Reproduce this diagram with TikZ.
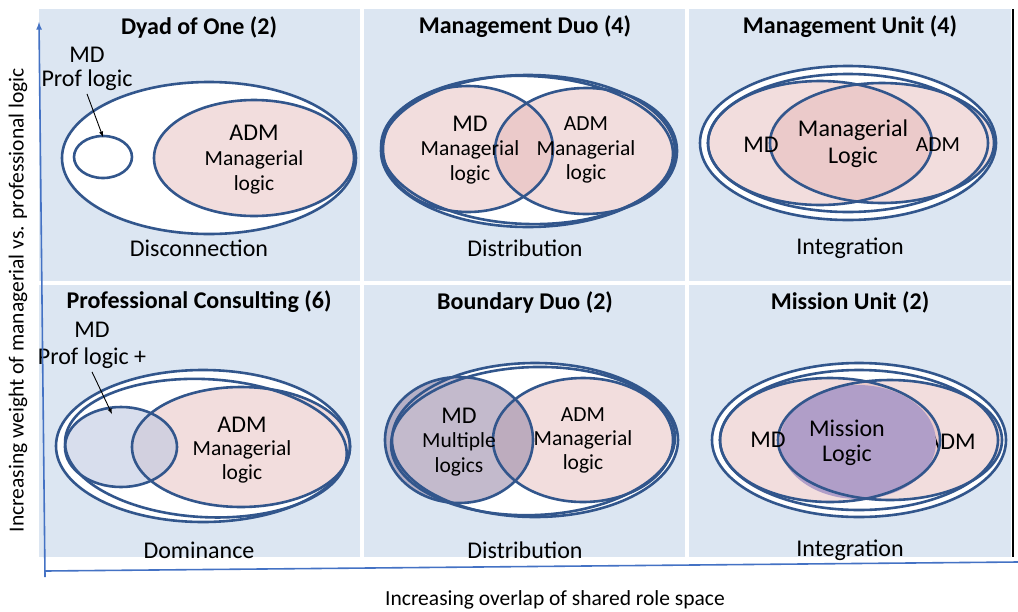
\documentclass[tikz,border=0pt]{standalone}
\usepackage{fontspec}
\setmainfont{Carlito}
\usetikzlibrary{arrows}
\definecolor{cellblue}{RGB}{220,230,242}
\definecolor{ringblue}{RGB}{50,86,140}
\definecolor{axisblue}{RGB}{68,114,196}
\definecolor{rosepink}{RGB}{228,180,180}
\definecolor{greyplum}{RGB}{155,140,170}
\definecolor{mistblue}{RGB}{190,200,225}
\definecolor{mission}{RGB}{176,158,200}
\pgfdeclarelayer{panellayer}
\pgfdeclarelayer{filllayer}
\pgfsetlayers{panellayer,filllayer,main}
\tikzstyle{cell}=[fill=cellblue,draw=white,line width=4]
\tikzstyle{ring}=[draw=ringblue,line width=2.6]
\tikzstyle{pinkfill}=[fill=rosepink,fill opacity=0.45]
\tikzstyle{headline}=[font=\bfseries\fontsize{24}{28}\selectfont]
\tikzstyle{bigtext}=[font=\fontsize{24}{28}\selectfont]
\tikzstyle{smalltext}=[font=\fontsize{21.5}{25}\selectfont]
\tikzstyle{axistext}=[font=\fontsize{21.5}{25}\selectfont]
\tikzstyle{pointer}=[-latex,draw=black,line width=0.9]
\tikzstyle{axisline}=[draw=axisblue,line width=1.6]

\begin{document}
\begin{tikzpicture}[x=1pt,y=-1pt]
	\useasboundingbox (0,0) rectangle (1018,611);
	\begin{pgfonlayer}{panellayer}
		\path [style=cell] (37,7) rectangle (362,283);
		\path [style=cell] (362,7) rectangle (687,283);
		\path [style=cell] (687,7) rectangle (1013,283);
		\path [style=cell] (37,283) rectangle (362,559);
		\path [style=cell] (362,283) rectangle (687,559);
		\path [style=cell] (687,283) rectangle (1013,559);
		\draw [black, line width=2] (1013,9) -- (1013,557);
	\end{pgfonlayer}
	\begin{pgfonlayer}{filllayer}
		% Dyad of One
		\fill [white] (209,158) ellipse (147 and 76);
		\path [style=pinkfill] (254,158) ellipse (100 and 58);
		% Management Duo
		\fill [white] (528,151) ellipse (147 and 76);
		\path [style=pinkfill] (468,149) ellipse (85 and 63);
		\path [style=pinkfill] (586,151) ellipse (91 and 63);
		% Management Unit
		\fill [white] (848,143) ellipse (148 and 77);
		\path [style=pinkfill] (820,143) ellipse (112 and 62);
		\path [style=pinkfill] (882,143) ellipse (112 and 60);
		% Professional Consulting
		\fill [white] (203,446) ellipse (147 and 76);
		\path [style=pinkfill] (241,447) ellipse (109 and 60);
		\path [fill=mistblue, fill opacity=0.6] (121,447) ellipse (56 and 40);
		% Boundary Duo
		\fill [white] (535,440) ellipse (143 and 77);
		\path [style=pinkfill] (583,440) ellipse (90 and 62);
		\path [fill=greyplum, fill opacity=0.6] (459,440) ellipse (74 and 63);
		% Mission Unit
		\fill [white] (859,440) ellipse (147 and 77);
		\path [style=pinkfill] (830,440) ellipse (110 and 62);
		\path [style=pinkfill] (890,440) ellipse (112 and 60);
		\node [style=bigtext] (adm6) at (951,442) {ADM};
		\fill [mission] (858,442) ellipse (78 and 57);
	\end{pgfonlayer}

	% outlines
	\draw [style=ring] (209,158) ellipse (147 and 76);
	\draw [style=ring] (103,157) ellipse (29 and 21);
	\draw [style=ring] (254,158) ellipse (100 and 58);

	\draw [style=ring] (528,151) ellipse (147 and 76);
	\draw [style=ring, rotate around={-2:(528,151)}] (527,150) ellipse (146 and 74);
	\draw [style=ring] (468,149) ellipse (85 and 63);
	\draw [style=ring] (586,151) ellipse (91 and 63);

	\draw [style=ring] (848,143) ellipse (148 and 77);
	\draw [style=ring] (848,143) ellipse (140 and 69);
	\draw [style=ring] (820,143) ellipse (112 and 62);
	\draw [style=ring] (882,143) ellipse (112 and 60);

	\draw [style=ring] (203,446) ellipse (147 and 76);
	\draw [style=ring, rotate around={-3:(203,446)}] (206,448) ellipse (141 and 69);
	\draw [style=ring] (241,447) ellipse (109 and 60);
	\draw [style=ring] (121,447) ellipse (56 and 40);

	\draw [style=ring] (535,440) ellipse (143 and 77);
	\draw [style=ring, rotate around={2:(535,440)}] (533,441) ellipse (142 and 74);
	\draw [style=ring] (583,440) ellipse (90 and 62);
	\draw [style=ring] (459,440) ellipse (74 and 63);

	\draw [style=ring] (859,440) ellipse (147 and 77);
	\draw [style=ring] (859,440) ellipse (139 and 70);
	\draw [style=ring] (830,440) ellipse (110 and 62);
	\draw [style=ring] (890,440) ellipse (112 and 60);

	% texts
	\node [style=headline] (t1) at (199,27) {Dyad of One (2)};
	\node [style=bigtext] (md1) at (87,55) {MD};
	\node [style=bigtext] (prof1) at (87,80) {Prof logic};
	\node [style=bigtext] (adm1) at (254,133) {ADM};
	\node [style=smalltext] (mgr1) at (254,160) {Managerial};
	\node [style=smalltext] (log1) at (254,185) {logic};
	\node [style=bigtext] (b1) at (199,248) {Disconnection};
	\coordinate (c1) at (103,137);

	\node [style=headline] (t2) at (525,27) {Management Duo (4)};
	\node [style=bigtext] (md2) at (470,124) {MD};
	\node [style=smalltext] (mgr2a) at (470,150) {Managerial};
	\node [style=smalltext] (log2a) at (470,175) {logic};
	\node [style=smalltext] (adm2) at (586,124) {ADM};
	\node [style=smalltext] (mgr2b) at (586,150) {Managerial};
	\node [style=smalltext] (log2b) at (586,174) {logic};
	\node [style=bigtext] (b2) at (525,248) {Distribution};

	\node [style=headline] (t3) at (850,27) {Management Unit (4)};
	\node [style=bigtext] (md3) at (761,145) {MD};
	\node [style=bigtext] (mgr3) at (853,130) {Managerial};
	\node [style=bigtext] (log3) at (853,157) {Logic};
	\node [style=smalltext] (adm3) at (938,145) {ADM};
	\node [style=bigtext] (b3) at (850,248) {Integration};

	\node [style=headline] (t4) at (199,302) {Professional Consulting (6)};
	\node [style=bigtext] (md4) at (92,330) {MD};
	\node [style=bigtext] (prof4) at (92,358) {Prof logic +};
	\node [style=bigtext] (adm4) at (242,425) {ADM};
	\node [style=smalltext] (mgr4) at (242,450) {Managerial};
	\node [style=smalltext] (log4) at (242,474) {logic};
	\node [style=bigtext] (b4) at (199,550) {Dominance};
	\coordinate (c4) at (112,414);

	\node [style=headline] (t5) at (525,302) {Boundary Duo (2)};
	\node [style=bigtext] (md5) at (459,416) {MD};
	\node [style=smalltext] (mul5) at (459,442) {Multiple};
	\node [style=smalltext] (logs5) at (459,467) {logics};
	\node [style=smalltext] (adm5) at (583,415) {ADM};
	\node [style=smalltext] (mgr5) at (583,440) {Managerial};
	\node [style=smalltext] (log5) at (583,464) {logic};
	\node [style=bigtext] (b5) at (525,550) {Distribution};

	\node [style=headline] (t6) at (850,302) {Mission Unit (2)};
	\node [style=bigtext] (md6) at (768,440) {MD};
	\node [style=bigtext] (mis6) at (847,428) {Mission};
	\node [style=bigtext] (log6) at (847,455) {Logic};
	\node [style=bigtext] (b6) at (850,550) {Integration};

	% pointers
	\draw [style=pointer] (prof1.south) -- (c1);
	\draw [style=pointer] (prof4.south) -- (c4);

	% axes
	\coordinate (ya) at (45,577);
	\coordinate (yb) at (39,22);
	\coordinate (xa) at (45,571);
	\coordinate (xb) at (1018,562);
	\draw [style=axisline, -latex] (ya) -- (yb);
	\draw [style=axisline] (xa) -- (xb);
	\node [style=axistext, rotate=90] (ylab) at (18,300) {Increasing weight of managerial vs. professional logic};
	\node [style=axistext] (xlab) at (555,600) {Increasing overlap of shared role space};
\end{tikzpicture}
\end{document}
